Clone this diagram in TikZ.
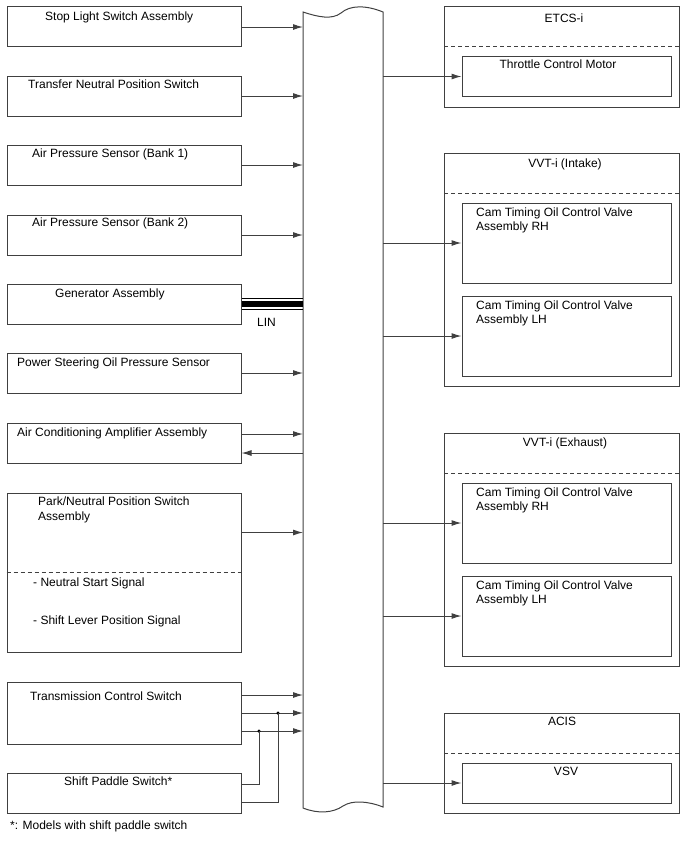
\documentclass[tikz,border=0pt]{standalone}
\usepackage{fontspec}
\setmainfont{Liberation Sans}
\usetikzlibrary{arrows.meta}
\definecolor{ln}{HTML}{404040}
\tikzset{
  box/.style={draw=ln, line width=1pt, inner sep=0pt, rectangle},
  txt/.style={inner sep=0pt, font=\fontsize{12}{14}\selectfont, text=black},
  arr/.style={draw=ln, line width=1pt, -{Latex[length=10pt,width=6pt]}},
  wire/.style={draw=ln, line width=1pt},
  dsh/.style={draw=ln, line width=1pt, dash pattern=on 4pt off 3pt},
  dotn/.style={circle, fill=black, inner sep=0pt, minimum size=3.5pt},
}
\begin{document}
\begin{tikzpicture}[x=1pt,y=-1pt]
\useasboundingbox (0,0) rectangle (688,852);
% bus
\path[draw=ln, line width=1pt] (303,12) .. controls (318,17) and (332,20) .. (341,13)
  .. controls (350,5) and (366,5) .. (383,12) -- (383,807)
  .. controls (368,801) and (352,800) .. (343,806)
  .. controls (333,813) and (318,814) .. (303,808) -- cycle;
\coordinate (busL) at (303,0);
\coordinate (busR) at (383,0);
% left boxes
\node[box, minimum width=234, minimum height=40] (stop) at (124,26) {};
\node[txt, anchor=base west] at (45,20) {Stop Light Switch Assembly};
\node[box, minimum width=234, minimum height=40] (trans) at (124,96) {};
\node[txt, anchor=base west] at (28,88) {Transfer Neutral Position Switch};
\node[box, minimum width=234, minimum height=40] (ap1) at (124,165) {};
\node[txt, anchor=base west] at (32,157) {Air Pressure Sensor (Bank 1)};
\node[box, minimum width=234, minimum height=40] (ap2) at (124,235) {};
\node[txt, anchor=base west] at (32,226) {Air Pressure Sensor (Bank 2)};
\node[box, minimum width=234, minimum height=40] (gen) at (124,304) {};
\node[txt, anchor=base west] at (55,297) {Generator Assembly};
\node[box, minimum width=234, minimum height=40] (ps) at (124,373) {};
\node[txt, anchor=base west] at (17,366) {Power Steering Oil Pressure Sensor};
\node[box, minimum width=234, minimum height=40] (ac) at (124,443) {};
\node[txt, anchor=base west] at (17,436) {Air Conditioning Amplifier Assembly};
\node[box, minimum width=234, minimum height=159] (pn) at (124,572.5) {};
\node[txt, anchor=base west] at (38,505) {Park/Neutral Position Switch};
\node[txt, anchor=base west] at (38,520) {Assembly};
\draw[dsh] (pn.west |- 0,572) -- (pn.east |- 0,572);
\node[txt, anchor=base west] at (33,586) {- Neutral Start Signal};
\node[txt, anchor=base west] at (33,624) {- Shift Lever Position Signal};
\node[box, minimum width=234, minimum height=62] (tcs) at (124,713) {};
\node[txt, anchor=base west] at (30,700) {Transmission Control Switch};
\node[box, minimum width=234, minimum height=40] (spd) at (124,793) {};
\node[txt, anchor=base west] at (64,785) {Shift Paddle Switch*};
\node[txt, anchor=base west] at (10,829) {*: Models with shift paddle switch};
% left connectors
\draw[arr] ([yshift=-1pt]stop.east) -- ([yshift=-1pt]stop.east -| busL);
\draw[arr] (trans.east) -- (trans.east -| busL);
\draw[arr] (ap1.east) -- (ap1.east -| busL);
\draw[arr] (ap2.east) -- (ap2.east -| busL);
\draw[line width=6pt, draw=black] (gen.east) -- (gen.east -| busL);
\draw[line width=1pt, draw=black] ([yshift=5.5pt]gen.east) -- ([yshift=5.5pt]gen.east -| busL);
\draw[line width=1pt, draw=black] ([yshift=-5.5pt]gen.east) -- ([yshift=-5.5pt]gen.east -| busL);
\node[txt, anchor=base west] (lin) at (257,326) {LIN};
\draw[arr] (ps.east) -- (ps.east -| busL);
\draw[arr] ([yshift=9pt]ac.east) -- ([yshift=9pt]ac.east -| busL);
\draw[arr] ([yshift=-10pt]ac.east -| busL) -- ([yshift=-10pt]ac.east);
\draw[arr] ([yshift=40pt]pn.east) -- ([yshift=40pt]pn.east -| busL);
\draw[arr] ([yshift=18pt]tcs.east) -- ([yshift=18pt]tcs.east -| busL);
\draw[arr] (tcs.east) -- (tcs.east -| busL);
\draw[arr] ([yshift=-18pt]tcs.east) -- ([yshift=-18pt]tcs.east -| busL);
\coordinate (j1) at (259,731);
\coordinate (j2) at (278,713);
\node[dotn] at (j1) {};
\node[dotn] at (j2) {};
\draw[wire] ([yshift=9pt]spd.east) -| (j1);
\draw[wire] ([yshift=-9pt]spd.east) -| (j2);
% right groups
\node[box, minimum width=235, minimum height=101] (etcs) at (562,56.5) {};
\node[txt, anchor=base] at (564,22) {ETCS-i};
\draw[dsh] (etcs.west |- 0,46) -- (etcs.east |- 0,46);
\node[box, minimum width=209, minimum height=40] (tcm) at (566.5,76.5) {};
\node[txt, anchor=base] at (558,68) {Throttle Control Motor};
\draw[arr] (busR |- tcm.west) -- (tcm.west);

\node[box, minimum width=235, minimum height=233] (vin) at (562,269.5) {};
\node[txt, anchor=base] at (565,167) {VVT-i (Intake)};
\draw[dsh] (vin.west |- 0,193) -- (vin.east |- 0,193);
\node[box, minimum width=209, minimum height=80] (vin1) at (566.5,243) {};
\node[txt, anchor=base west] at (476,216) {Cam Timing Oil Control Valve};
\node[txt, anchor=base west] at (476,230) {Assembly RH};
\node[box, minimum width=209, minimum height=80] (vin2) at (566.5,336) {};
\node[txt, anchor=base west] at (476,309) {Cam Timing Oil Control Valve};
\node[txt, anchor=base west] at (476,323) {Assembly LH};
\draw[arr] (busR |- vin1.west) -- (vin1.west);
\draw[arr] (busR |- vin2.west) -- (vin2.west);

\node[box, minimum width=235, minimum height=233] (vex) at (562,549.5) {};
\node[txt, anchor=base] at (565,446) {VVT-i (Exhaust)};
\draw[dsh] (vex.west |- 0,473) -- (vex.east |- 0,473);
\node[box, minimum width=209, minimum height=80] (vex1) at (566.5,523) {};
\node[txt, anchor=base west] at (476,496) {Cam Timing Oil Control Valve};
\node[txt, anchor=base west] at (476,510) {Assembly RH};
\node[box, minimum width=209, minimum height=80] (vex2) at (566.5,616) {};
\node[txt, anchor=base west] at (476,589) {Cam Timing Oil Control Valve};
\node[txt, anchor=base west] at (476,603) {Assembly LH};
\draw[arr] (busR |- vex1.west) -- (vex1.west);
\draw[arr] (busR |- vex2.west) -- (vex2.west);

\node[box, minimum width=235, minimum height=100] (acis) at (562,763) {};
\node[txt, anchor=base] at (562,725) {ACIS};
\draw[dsh] (acis.west |- 0,753) -- (acis.east |- 0,753);
\node[box, minimum width=209, minimum height=40] (vsv) at (566.5,783) {};
\node[txt, anchor=base] at (566,775) {VSV};
\draw[arr] (busR |- vsv.west) -- (vsv.west);
\end{tikzpicture}
\end{document}
